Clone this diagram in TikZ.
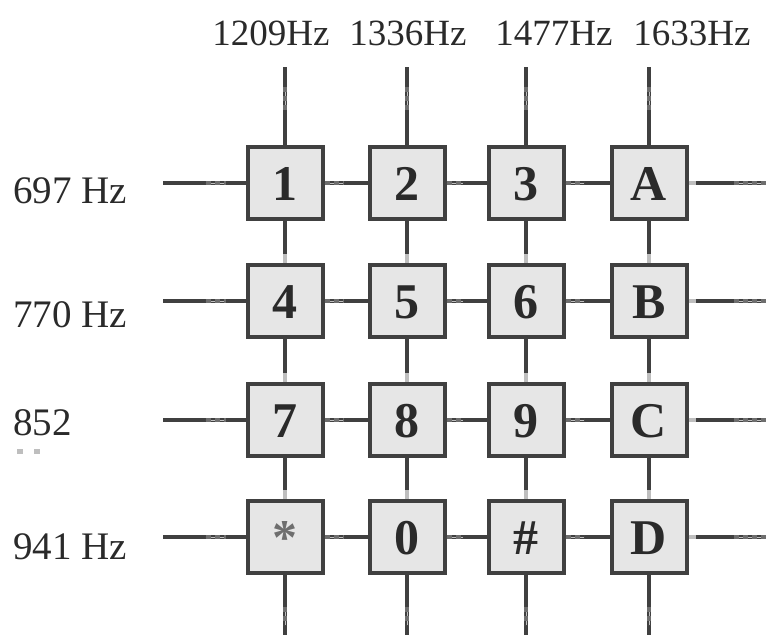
\documentclass[tikz,border=0pt]{standalone}
\usepackage{fontspec}
\setmainfont{Liberation Serif}
\usetikzlibrary{calc}
\definecolor{wirec}{HTML}{404040}
\definecolor{boxfill}{HTML}{E6E6E6}
\definecolor{dotc}{HTML}{6E6E6E}
\definecolor{dotbg}{HTML}{BEBEBE}
\definecolor{labc}{HTML}{2A2A2A}
\begin{document}
\begin{tikzpicture}[x=1pt,y=-1pt,
  key/.style={draw=wirec, fill=boxfill, line width=4pt, minimum width=75pt, minimum height=72pt,
    inner sep=0pt, font=\fontsize{50}{50}\selectfont\bfseries, text=labc, text height=34pt, text depth=0pt},
  wire/.style={draw=wirec, line width=4pt},
  brk/.style={line width=4pt, draw=dotc, dash pattern=on 5pt off 4pt, preaction={draw=dotbg, solid}},
  fade/.style={line width=4pt, draw=dotbg},
  flab/.style={font=\fontsize{37}{37}\selectfont, inner sep=0pt, text=labc},
  rlab/.style={font=\fontsize{39}{39}\selectfont, inner sep=0pt, text=labc, anchor=base west}]
\useasboundingbox (0,0) rectangle (766,635);

% keys
\foreach \r/\y/\a/\b/\cc/\d in {1/183/1/2/3/A, 2/301/4/5/6/B, 3/420/7/8/9/C, 4/537/{\textcolor{dotc}{*}}/0/\#/D}{
  \node[key] (k\r1) at (285,\y) {\a};
  \node[key] (k\r2) at (407,\y) {\b};
  \node[key] (k\r3) at (526,\y) {\cc};
  \node[key] (k\r4) at (649,\y) {\d};
  \coordinate (L\r) at (163,\y);
  \coordinate (R\r) at (766,\y);
}
\foreach \c/\x in {1/285,2/407,3/526,4/649}{
  \coordinate (T\c) at (\x,67);
  \coordinate (B\c) at (\x,635);
}

% horizontal connectors
\foreach \r in {1,2,3,4}{
  \draw[wire] (L\r) -- (k\r1);
  \draw[wire] (k\r1) -- (k\r2);
  \draw[wire] (k\r2) -- (k\r3);
  \draw[wire] (k\r3) -- (k\r4);
  \draw[wire] (k\r4) -- (R\r);
  \draw[brk] ($(k\r1.west)+(-40,0)$) -- ++(20,0);
  \draw[brk] (k\r1.east) -- ++(19,0);
  \draw[brk] (k\r2.east) -- ++(16,0);
  \draw[brk] (k\r3.east) -- ++(18,0);
  \draw[brk] ($(R\r)+(-32,0)$) -- (R\r);
  \draw[fade] (k\r4.east) -- ++(7,0);
}

% vertical connectors
\foreach \c in {1,2,3,4}{
  \draw[wire] (T\c) -- (k1\c);
  \draw[wire] (k1\c) -- (k2\c);
  \draw[wire] (k2\c) -- (k3\c);
  \draw[wire] (k3\c) -- (k4\c);
  \draw[wire] (k4\c) -- (B\c);
  \draw[brk] ($(T\c)+(0,20)$) -- ++(0,23);
  \draw[fade] (k2\c.north) -- ++(0,-9);
  \draw[fade] (k3\c.north) -- ++(0,-9);
  \draw[fade] (k4\c.north) -- ++(0,-9);
  \draw[brk] ($(B\c)+(0,-28)$) -- ++(0,18);
}

% frequency labels
\node[flab, anchor=base] (c1) at (271,45) {1209Hz};
\node[flab, anchor=base] (c2) at (408,45) {1336Hz};
\node[flab, anchor=base] (c3) at (554,45) {1477Hz};
\node[flab, anchor=base] (c4) at (692,45) {1633Hz};

\node[rlab] (r1) at (13,203) {697 Hz};
\node[rlab] (r2) at (13,327) {770 Hz};
\node[rlab] (r3) at (13,435) {852};
\fill[dotbg] (17,449) rectangle ++(6,5);
\fill[dotbg] (34,449) rectangle ++(6,5);
\node[rlab] (r4) at (13,559) {941 Hz};
\end{tikzpicture}
\end{document}
